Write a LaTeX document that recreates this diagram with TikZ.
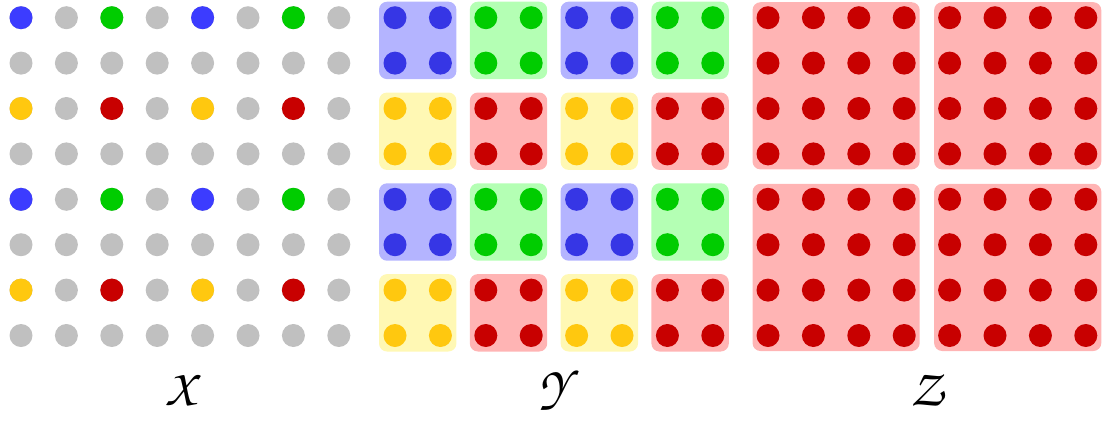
\documentclass[tikz,border=0pt]{standalone}
\usepackage[T1,TU]{fontenc}
\usepackage{tikz}
\usetikzlibrary{calc,positioning}
\definecolor{dotblue}{RGB}{60,60,255}
\definecolor{dotgreen}{RGB}{0,204,0}
\definecolor{dotgold}{RGB}{255,200,15}
\definecolor{dotred}{RGB}{200,0,0}
\definecolor{dotgray}{RGB}{192,192,192}
\definecolor{boxblue}{RGB}{180,180,255}
\definecolor{boxgreen}{RGB}{180,255,180}
\definecolor{boxgold}{RGB}{255,248,180}
\definecolor{boxred}{RGB}{255,180,180}
\newcommand{\chanc}{\fontencoding{T1}\fontfamily{pzc}\fontseries{mb}\fontshape{it}\fontsize{52}{56}\selectfont}
\tikzset{
  lbl/.style={inner sep=0pt,font=\chanc},
  grp/.style={rounded corners=8pt}
}
% one 2x2 group of the middle grid: #1,#2 = first dot, #3 = box, #4 = dots
\newcommand{\ygroup}[4]{%
  \fill[#3,grp] (#1-16,#2-16) rectangle ++(45.4+32,45.4+32);
  \foreach \u in {0,1}{\foreach \v in {0,1}{\fill[#4] (#1+\u*45.4,#2+\v*45.4) circle (11.5);}}
}

\begin{document}
\begin{tikzpicture}[x=1pt,y=-1pt]
\useasboundingbox (0,0) rectangle (1102,421);
\def\s{45.4}
\coordinate (xo) at (21,17.7);
\coordinate (yo) at (395,17.7);
\coordinate (zo) at (768,17.7);
% left grid, grey dots then the coloured ones
\foreach \i in {0,...,7}{\foreach \j in {0,...,7}{\fill[dotgray] ($(xo)+(\i*\s,\j*\s)$) circle (11.5);}}
\foreach \i in {0,4}{\foreach \j in {0,4}{
  \fill[dotblue] ($(xo)+(\i*\s,\j*\s)$) circle (11.5);
  \fill[dotgreen] ($(xo)+(\i*\s+2*\s,\j*\s)$) circle (11.5);
  \fill[dotgold] ($(xo)+(\i*\s,\j*\s+2*\s)$) circle (11.5);
  \fill[dotred] ($(xo)+(\i*\s+2*\s,\j*\s+2*\s)$) circle (11.5);
}}
% middle grid, 2x2 groups
\foreach \i in {0,4}{\foreach \j in {0,4}{
  \ygroup{395+\i*\s}{17.7+\j*\s}{boxblue}{dotblue!90!black}
  \ygroup{395+\i*\s+2*\s}{17.7+\j*\s}{boxgreen}{dotgreen}
  \ygroup{395+\i*\s}{17.7+\j*\s+2*\s}{boxgold}{dotgold}
  \ygroup{395+\i*\s+2*\s}{17.7+\j*\s+2*\s}{boxred}{dotred}
}}
% right grid, 4x4 groups
\foreach \i in {0,4}{\foreach \j in {0,4}{
  \fill[boxred,grp] ($(zo)+(\i*\s-15.5,\j*\s-15.5)$) rectangle ++(3*\s+31,3*\s+31);
  \foreach \u in {0,...,3}{\foreach \v in {0,...,3}{
    \fill[dotred] ($(zo)+(\i*\s+\u*\s,\j*\s+\v*\s)$) circle (11.5);}}
}}
% labels
\node[lbl] (xlab) at (181,390) {X};
\node[lbl] (ylab) at (554,390) {Y};
\node[lbl] (zlab) at (927,390) {Z};
\end{tikzpicture}
\end{document}
